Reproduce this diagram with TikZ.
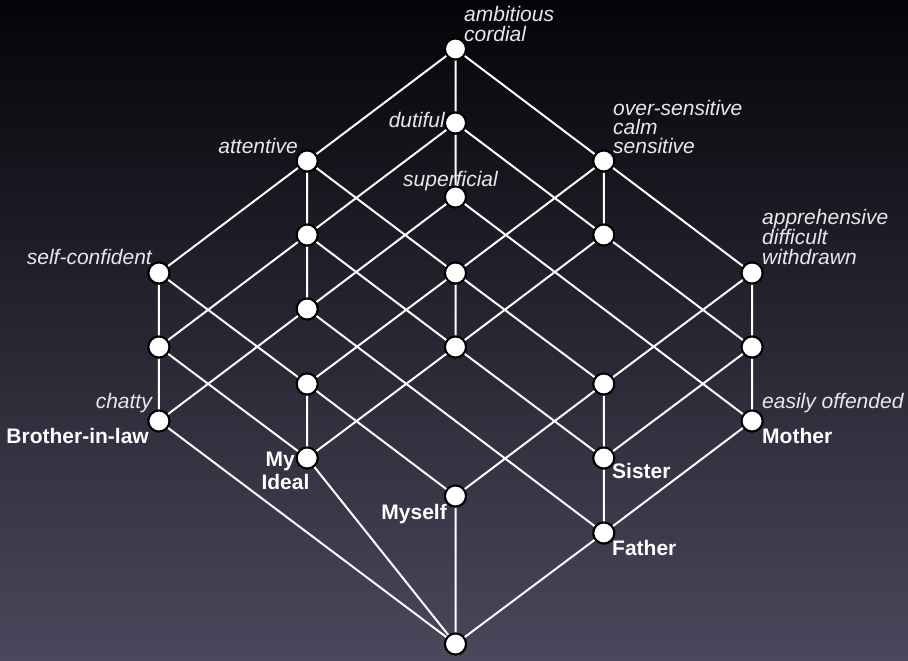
\documentclass[tikz,border=0pt]{standalone}
\usepackage{fontspec}
\setmainfont{Liberation Sans}
\definecolor{bgtop}{RGB}{4,4,8}
\definecolor{bgmid}{RGB}{27,26,43}
\definecolor{bgbot}{RGB}{76,71,92}
\definecolor{attrtext}{RGB}{232,232,236}
\begin{document}
\begin{tikzpicture}[x=1pt,y=-1pt,
  concept/.style={circle,fill=white,draw=black,line width=2pt,inner sep=0pt,minimum size=21pt},
  edge/.style={draw=white,line width=2pt},
  attr/.style={font=\fontsize{21}{21}\selectfont\itshape,text=attrtext,inner sep=0pt,text height=14pt,text depth=3pt},
  obj/.style={font=\fontsize{21}{21}\selectfont\bfseries,text=white,inner sep=0pt,text height=14pt,text depth=3pt}]
\shade[top color=bgtop,middle color=bgmid,bottom color=bgbot] (0,0) rectangle (908,661);
\useasboundingbox (0,0) rectangle (908,661);
% concepts
\node[concept] (T) at (455.5,49) {};
\node[concept] (dut) at (455.5,123) {};
\node[concept] (sup) at (455.5,197) {};
\node[concept] (att) at (307.2,161) {};
\node[concept] (ovs) at (603.8,161) {};
\node[concept] (a2) at (307.2,235) {};
\node[concept] (b2) at (603.8,235) {};
\node[concept] (sc) at (158.9,273) {};
\node[concept] (c) at (455.5,273) {};
\node[concept] (app) at (752.1,273) {};
\node[concept] (d) at (307.2,309) {};
\node[concept] (l2) at (158.9,347) {};
\node[concept] (e) at (455.5,347) {};
\node[concept] (r2) at (752.1,347) {};
\node[concept] (f) at (307.2,384) {};
\node[concept] (g) at (603.8,384) {};
\node[concept] (bro) at (158.9,421) {};
\node[concept] (mot) at (752.1,421) {};
\node[concept] (myi) at (307.2,458) {};
\node[concept] (sis) at (603.8,458) {};
\node[concept] (mys) at (455.5,496) {};
\node[concept] (fat) at (603.8,533) {};
\node[concept] (bot) at (455.5,644) {};
% edges
\path[edge]
  (T) -- (att) (T) -- (dut) (T) -- (ovs)
  (dut) -- (sup) (dut) -- (a2) (dut) -- (b2)
  (att) -- (sc) (att) -- (a2) (att) -- (c)
  (ovs) -- (b2) (ovs) -- (c) (ovs) -- (app)
  (sup) -- (d) (sup) -- (mot)
  (a2) -- (l2) (a2) -- (d) (a2) -- (e)
  (b2) -- (e) (b2) -- (r2)
  (sc) -- (l2) (sc) -- (f)
  (c) -- (e) (c) -- (f) (c) -- (g)
  (app) -- (r2) (app) -- (g)
  (d) -- (bro) (d) -- (fat)
  (l2) -- (bro) (l2) -- (myi)
  (e) -- (myi) (e) -- (sis)
  (r2) -- (mot) (r2) -- (sis)
  (f) -- (myi) (f) -- (mys)
  (g) -- (sis) (g) -- (mys)
  (bro) -- (bot) (myi) -- (bot) (mys) -- (bot) (fat) -- (bot)
  (sis) -- (fat) (mot) -- (fat);
% redraw nodes on top of the edges
\foreach \n in {T,dut,sup,att,ovs,a2,b2,sc,c,app,d,l2,e,r2,f,g,bro,mot,myi,sis,mys,fat,bot}
  \node[concept] at (\n) {};
% attribute labels
\node[attr,anchor=base west] (t1) at (464,22) {ambitious};
\node[attr,anchor=base west] (t2) at (464,42) {cordial};
\node[attr,anchor=base east] (t3) at (445,127) {dutiful};
\node[attr,anchor=base east] (t4) at (298,153) {attentive};
\node[attr,anchor=base] (t5) at (450.5,186) {superficial};
\node[attr,anchor=base west] (t6) at (613,115) {over-sensitive};
\node[attr,anchor=base west] (t7) at (613,134) {calm};
\node[attr,anchor=base west] (t8) at (613,153) {sensitive};
\node[attr,anchor=base west] (t9) at (762,224.5) {apprehensive};
\node[attr,anchor=base west] (t10) at (762,244.5) {difficult};
\node[attr,anchor=base west] (t11) at (762,264) {withdrawn};
\node[attr,anchor=base east] (t12) at (152,264) {self-confident};
\node[attr,anchor=base east] (t13) at (152,408) {chatty};
\node[attr,anchor=base west] (t14) at (762,408) {easily offended};
% object labels
\node[obj,anchor=base east] (o1) at (149,443) {Brother-in-law};
\node[obj,anchor=base west] (o2) at (762,443) {Mother};
\node[obj,anchor=base east] (o3) at (295,466) {My};
\node[obj,anchor=base] (o4) at (285.5,489) {Ideal};
\node[obj,anchor=base east] (o5) at (447,519) {Myself};
\node[obj,anchor=base west] (o6) at (612,478) {Sister};
\node[obj,anchor=base west] (o7) at (612,555) {Father};
\end{tikzpicture}
\end{document}
